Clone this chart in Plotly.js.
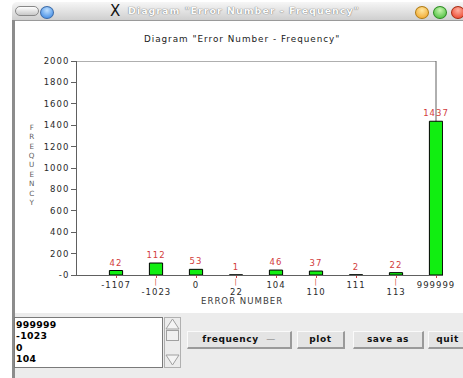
<!DOCTYPE html>
<html>
<head>
<meta charset="utf-8">
<script src="https://cdn.plot.ly/plotly-3.0.1.min.js"></script>
<style>
  html, body { margin: 0; padding: 0; background: #ffffff; }
  body { width: 463px; height: 378px; position: relative; overflow: hidden; font-family: "DejaVu Sans", sans-serif; }
  #titlebar { position: absolute; left: 12px; top: 2px; width: 460px; height: 18px;
    background: linear-gradient(#f6f6f6, #cfcfcf); border-top-left-radius: 5px; border-top-right-radius: 5px;
    border-bottom: 1px solid #9a9a9a; }
  #titlebar .caption { position: absolute; left: 116px; top: 3px; font-size: 9.5px; font-weight: bold;
    color: #fbfbfb; letter-spacing: 1px; white-space: nowrap; text-shadow: 0 0 1px #7a7a7a, 0 0 1px #7a7a7a; }
  #titlebar .xicon { position: absolute; left: 98px; top: 0px; font-size: 15px; color: #111; }
  .dot { position: absolute; top: 4px; width: 12px; height: 11px; border-radius: 50%; }
  #leftborder { position: absolute; left: 12px; top: 20px; width: 3px; height: 360px; background: #8c8c8c; }
  #chart { position: absolute; left: 0; top: 0; width: 463px; height: 313px; }
  #panel { position: absolute; left: 15px; top: 313px; width: 448px; height: 65px; background: #ececec; }
  #listbox { position: absolute; left: 14px; top: 317px; width: 146px; height: 48px; background: #fff; padding-top: 1px;
    border: 1px solid #7a7a7a; font-size: 9.3px; font-weight: bold; color: #000; line-height: 11.3px; padding-left: 1px; letter-spacing: 0.3px; }
  #scroll { position: absolute; left: 164px; top: 317px; }
  .btn { position: absolute; top: 331px; height: 18px; background: #e4e4e4; box-sizing: border-box;
    border-top: 1px solid #fafafa; border-left: 1px solid #fafafa; border-right: 2px solid #9a9a9a; border-bottom: 2px solid #9a9a9a;
    font-size: 9px; font-weight: bold; color: #111; text-align: center; line-height: 15px; letter-spacing: 0.6px; white-space: nowrap; }
  .js-plotly-plot svg text { letter-spacing: 1px; }
</style>
</head>
<body>
<div id="titlebar">
  <div class="dot" style="left:3px;width:22px;border-radius:6px;background:linear-gradient(#ffffff,#c8c8c8);border:1px solid #888;height:8px;top:4px;"></div>
  <div class="dot" style="left:28px;background:radial-gradient(circle at 50% 30%,#bfe0ff,#2f7fe0);border:1px solid #3a6aa8;"></div>
  <div class="xicon">X</div>
  <div class="caption" id="caption"></div>
  <div class="dot" style="left:403px;background:radial-gradient(circle at 50% 30%,#ffe7a0,#f0a020);border:1px solid #b07a10;"></div>
  <div class="dot" style="left:421px;background:radial-gradient(circle at 50% 30%,#c8f5b0,#3cb830);border:1px solid #2a8a20;"></div>
  <div class="dot" style="left:439px;background:radial-gradient(circle at 50% 30%,#ffb0a0,#e83a20);border:1px solid #a82a10;"></div>
</div>
<div id="leftborder"></div>
<div id="panel"></div>
<div id="listbox"></div>
<svg id="scroll" width="17" height="51">
  <rect x="0.5" y="0.5" width="16" height="50" fill="#ececec" stroke="#b0b0b0"/>
  <polygon points="2,12 8.5,2 15,12" fill="#f4f4f4" stroke="#a0a0a0"/>
  <rect x="2.5" y="13.5" width="12" height="10" fill="#f0f0f0" stroke="#a0a0a0"/>
  <polygon points="2,38 8.5,48 15,38" fill="#f4f4f4" stroke="#a0a0a0"/>
</svg>
<div id="buttons"></div>
<div id="chart"></div>
<script>
// Error numbers (categories) and how often each occurred
const categories = ['-1107', '-1023', '0', '22', '104', '110', '111', '113', '999999'];
const frequency = [42, 112, 53, 1, 46, 37, 2, 22, 1437];

// Y axis ticks
const yTickVals = [0, 200, 400, 600, 800, 1000, 1200, 1400, 1600, 1800, 2000];
const yTickText = ['-0', '200', '400', '600', '800', '1000', '1200', '1400', '1600', '1800', '2000'];

// Window and control texts
const windowTitle = 'Diagram "Error Number - Frequency"';
const listItems = ['999999', '-1023', '0', '104'];
const buttonLabels = ['frequency', 'plot', 'save as', 'quit'];
const buttonBoxes = [[187, 105], [297, 48], [353, 71], [428, 40]];

document.getElementById('caption').textContent = windowTitle;
document.getElementById('listbox').innerHTML = listItems.map(s => '<div>' + s + '</div>').join('');
const btnHost = document.getElementById('buttons');
buttonLabels.forEach((label, i) => {
  const b = document.createElement('div');
  b.className = 'btn';
  b.style.left = buttonBoxes[i][0] + 'px';
  b.style.width = buttonBoxes[i][1] + 'px';
  b.innerHTML = i === 0 ? label + '&nbsp;&nbsp;<span style="font-weight:normal;color:#777">&#8212;</span>' : label;
  btnHost.appendChild(b);
});

const red = '#d23c3c';
const axisGray = '#606060';
const textDark = '#2a2a2a';
const fam = 'DejaVu Sans, sans-serif';
const font = { family: fam, size: 8.5, color: textDark };

// Upper row: every other label as an ordinary tick label
const xTickText = categories.map((c, i) => (i % 2 === 0 ? c : ''));

// Lower row: the remaining labels (placed by category index), each with a red marker above it
const lowerRow = [];
categories.forEach((c, i) => {
  if (i % 2 === 1) {
    lowerRow.push({ text: '|', xref: 'x', yref: 'paper', x: i, y: -0.031, xanchor: 'center', yanchor: 'middle',
      showarrow: false, font: { family: fam, size: 7, color: red } });
    lowerRow.push({ text: c, xref: 'x', yref: 'paper', x: i, y: -0.0795, xanchor: 'center', yanchor: 'middle',
      showarrow: false, font: font });
  }
});

const trace = {
  type: 'bar',
  x: categories,
  y: frequency,
  text: frequency.map(String),
  textposition: 'outside',
  constraintext: 'none',
  cliponaxis: false,
  textfont: { family: fam, size: 8.5, color: red },
  width: 0.33,
  marker: { color: '#11ee11', line: { color: '#000000', width: 1 } },
  hoverinfo: 'skip'
};

const lastIdx = categories.length - 1;

const layout = {
  width: 463,
  height: 313,
  margin: { l: 77, r: 20, t: 61, b: 38 },
  paper_bgcolor: 'rgba(0,0,0,0)',
  plot_bgcolor: '#ffffff',
  showlegend: false,
  font: font,
  title: {
    text: windowTitle,
    font: { family: fam, size: 8.8, color: '#1a1a1a' },
    x: 0.523, xanchor: 'center', xref: 'container',
    y: 0.875, yanchor: 'middle', yref: 'container'
  },
  xaxis: {
    type: 'category',
    range: [-0.975, 8.175],
    tickmode: 'array',
    tickvals: categories,
    ticktext: xTickText,
    tickangle: 0,
    ticks: 'outside',
    ticklen: 2,
    tickcolor: red,
    tickwidth: 1,
    showline: true,
    linecolor: axisGray,
    linewidth: 1,
    showgrid: false,
    zeroline: false,
    tickfont: font,
    fixedrange: true
  },
  yaxis: {
    range: [0, 2000],
    tickmode: 'array',
    tickvals: yTickVals,
    ticktext: yTickText,
    ticks: 'outside',
    ticklen: 5,
    tickcolor: axisGray,
    showline: true,
    linecolor: axisGray,
    linewidth: 1,
    showgrid: false,
    zeroline: false,
    tickfont: font,
    fixedrange: true
  },
  shapes: [
    // top and right frame lines of the diagram box
    { type: 'line', layer: 'below', xref: 'x', yref: 'y', x0: -0.975, x1: lastIdx, y0: 2000, y1: 2000, line: { color: axisGray, width: 1 } },
    { type: 'line', layer: 'below', xref: 'x', yref: 'y', x0: lastIdx, x1: lastIdx, y0: 0, y1: 2000, line: { color: axisGray, width: 1 } }
  ],
  annotations: lowerRow.concat([
    { text: 'ERROR NUMBER', xref: 'paper', yref: 'paper', x: 0.451, y: -0.1215, xanchor: 'center', yanchor: 'middle',
      showarrow: false, font: { family: fam, size: 8.6, color: '#3a3a3a' } },
    { text: 'FREQUENCY'.split('').join('<br>'), xref: 'paper', yref: 'paper', x: -0.123, y: 0.514, xanchor: 'center', yanchor: 'middle',
      showarrow: false, font: { family: fam, size: 7.2, color: '#5a5a5a' } }
  ])
};

Plotly.newPlot('chart', [trace], layout, { staticPlot: true, displayModeBar: false });
</script>
</body>
</html>
